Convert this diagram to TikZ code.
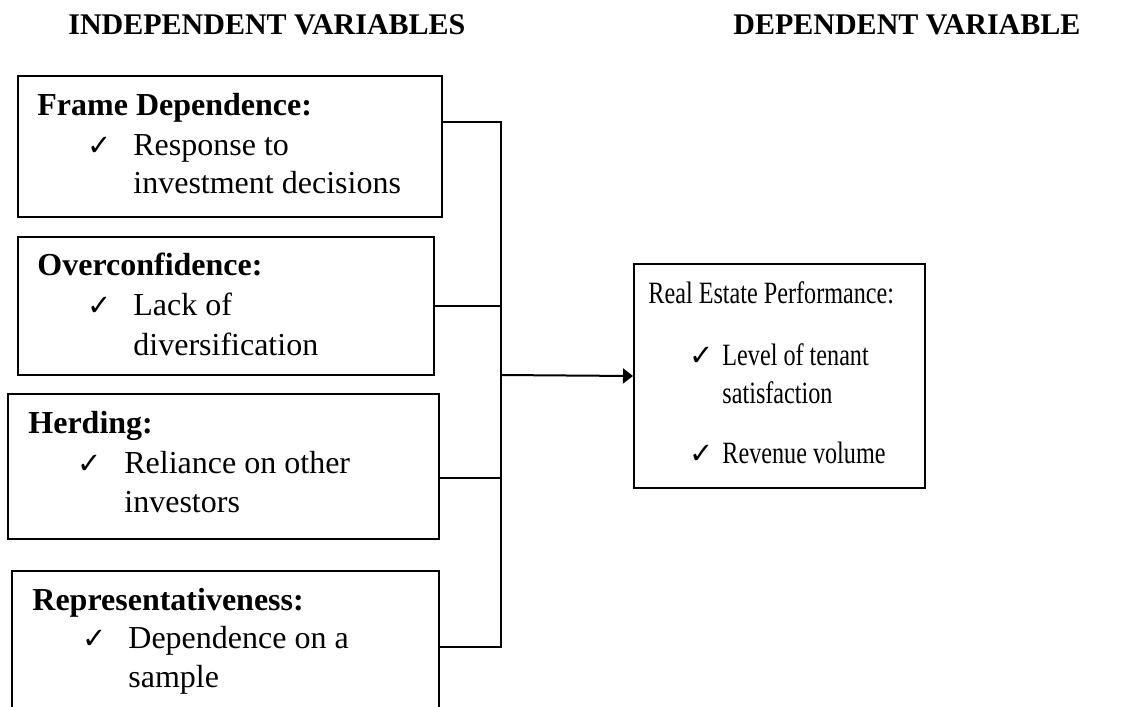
\documentclass[tikz,border=0pt]{standalone}
\usepackage{fontspec}
\usepackage{graphicx}
\setmainfont{Liberation Serif}
\newfontfamily\symfont{DejaVu Sans}
\usetikzlibrary{arrows.meta}
\newcommand{\narrowtext}[1]{\scalebox{0.78}[1]{#1}}
\begin{document}
\begin{tikzpicture}[x=0.5pt,y=-0.5pt,
  box/.style={draw, line width=1pt, inner sep=0pt, anchor=north west},
  txt/.style={anchor=base west, inner sep=0pt, font=\fontsize{16}{19}\selectfont},
  rtxt/.style={anchor=base west, inner sep=0pt, font=\fontsize{15.5}{19}\selectfont},
  head/.style={anchor=base west, inner sep=0pt, font=\fontsize{16}{19}\selectfont\bfseries},
  title/.style={anchor=base west, inner sep=0pt, font=\fontsize{15}{18}\selectfont\bfseries},
  chk/.style={anchor=base west, inner sep=0pt, font=\symfont\fontsize{14.5}{16}\selectfont},
  link/.style={line width=0.8pt},
]
\useasboundingbox (0,0) rectangle (1122,706);
\clip (0,0) rectangle (1122,706);

% headers
\node[title] (h1) at (68,35) {INDEPENDENT VARIABLES};
\node[title] (h2) at (733,35) {DEPENDENT VARIABLE};

% boxes
\node[box, minimum width=212pt, minimum height=70.5pt] (b1) at (17,75) {};
\node[box, minimum width=208pt, minimum height=69pt] (b2) at (17,236) {};
\node[box, minimum width=215.5pt, minimum height=72.5pt] (b3) at (7,393) {};
\node[box, minimum width=213.5pt, minimum height=75pt] (b4) at (11,570) {};
\node[box, minimum width=145.5pt, minimum height=112pt] (R) at (633,263) {};

% box 1
\node[head] (t1) at (37,115) {Frame Dependence:};
\node[chk] (c1) at (87,155) {✓};
\node[txt] (t1a) at (133,155) {Response to};
\node[txt] (t1b) at (133,193) {investment decisions};
% box 2
\node[head] (t2) at (37,275) {Overconfidence:};
\node[chk] (c2) at (87,315) {✓};
\node[txt] (t2a) at (133,315) {Lack of};
\node[txt] (t2b) at (133,355) {diversification};
% box 3
\node[head] (t3) at (28,433) {Herding:};
\node[chk] (c3) at (77,473) {✓};
\node[txt] (t3a) at (124,473) {Reliance on other};
\node[txt] (t3b) at (124,512) {investors};
% box 4
\node[head] (t4) at (32,610) {Representativeness:};
\node[chk] (c4) at (82,648) {✓};
\node[txt] (t4a) at (128,648) {Dependence on a};
\node[txt] (t4b) at (128,687) {sample};
% right box
\node[rtxt] (r0) at (648,303) {\narrowtext{Real Estate Performance:}};
\node[chk] (rc1) at (689,365) {✓};
\node[rtxt] (r1a) at (722,365) {\narrowtext{Level of tenant}};
\node[rtxt] (r1b) at (722,403) {\narrowtext{satisfaction}};
\node[chk] (rc2) at (689,463) {✓};
\node[rtxt] (r2) at (722,463) {\narrowtext{Revenue volume}};

% connectors
\coordinate (j1) at (501,122);
\coordinate (j2) at (501,306);
\coordinate (j3) at (501,478);
\coordinate (j4) at (501,647);
\coordinate (jm) at (501,375);
\draw[link] (b1.east |- j1) -- (j1) -- (j4) -- (b4.east |- j4);
\draw[link] (b2.east |- j2) -- (j2);
\draw[link] (b3.east |- j3) -- (j3);
\draw[line width=1pt, -{Triangle[length=5pt,width=7.5pt]}] (jm) -- (R.west);
\end{tikzpicture}
\end{document}
